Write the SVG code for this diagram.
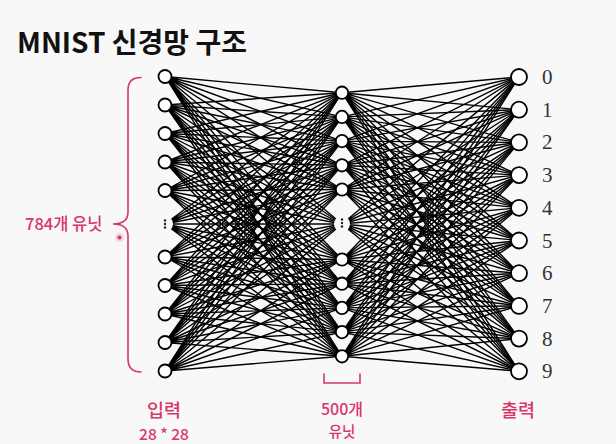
<svg xmlns="http://www.w3.org/2000/svg" width="616" height="444" viewBox="0 0 616 444">
<style>
.bg{fill:#f8f8f8}
.title{font-family:"Noto Sans CJK KR","Noto Sans",sans-serif;font-weight:700;font-size:28px;fill:#111}
.lbl{font-family:"Noto Sans CJK KR","Noto Sans",sans-serif;font-weight:500;fill:#d8356a}
.dig{font-family:"Liberation Serif","DejaVu Serif",serif;font-size:21px;fill:#333}
.edge{stroke:#000;stroke-width:1.4;fill:none}
.node{fill:#fff;stroke:#000;stroke-width:1.8}
.mask{fill:#f8f8f8}
.dot{fill:#222}
.pink{stroke:#d8356a;stroke-width:1.6;fill:none;stroke-linecap:round}
</style>
<rect class="bg" x="0" y="0" width="616" height="444"/>
<text class="title" x="17" y="53">MNIST 신경망 구조</text>

<g id="connectors" class="edge">
<path d="M165 76.5L342 92.7M165 76.5L342 116.9M165 76.5L342 141.1M165 76.5L342 165.3M165 76.5L342 189.5M165 76.5L342 224M165 76.5L342 259.5M165 76.5L342 283.7M165 76.5L342 307.9M165 76.5L342 332.1M165 76.5L342 356.3"/>
<path d="M165 105L342 92.7M165 105L342 116.9M165 105L342 141.1M165 105L342 165.3M165 105L342 189.5M165 105L342 224M165 105L342 259.5M165 105L342 283.7M165 105L342 307.9M165 105L342 332.1M165 105L342 356.3"/>
<path d="M165 133.5L342 92.7M165 133.5L342 116.9M165 133.5L342 141.1M165 133.5L342 165.3M165 133.5L342 189.5M165 133.5L342 224M165 133.5L342 259.5M165 133.5L342 283.7M165 133.5L342 307.9M165 133.5L342 332.1M165 133.5L342 356.3"/>
<path d="M165 162L342 92.7M165 162L342 116.9M165 162L342 141.1M165 162L342 165.3M165 162L342 189.5M165 162L342 224M165 162L342 259.5M165 162L342 283.7M165 162L342 307.9M165 162L342 332.1M165 162L342 356.3"/>
<path d="M165 190.5L342 92.7M165 190.5L342 116.9M165 190.5L342 141.1M165 190.5L342 165.3M165 190.5L342 189.5M165 190.5L342 224M165 190.5L342 259.5M165 190.5L342 283.7M165 190.5L342 307.9M165 190.5L342 332.1M165 190.5L342 356.3"/>
<path d="M165 224L342 92.7M165 224L342 116.9M165 224L342 141.1M165 224L342 165.3M165 224L342 189.5M165 224L342 224M165 224L342 259.5M165 224L342 283.7M165 224L342 307.9M165 224L342 332.1M165 224L342 356.3"/>
<path d="M165 257L342 92.7M165 257L342 116.9M165 257L342 141.1M165 257L342 165.3M165 257L342 189.5M165 257L342 224M165 257L342 259.5M165 257L342 283.7M165 257L342 307.9M165 257L342 332.1M165 257L342 356.3"/>
<path d="M165 285.5L342 92.7M165 285.5L342 116.9M165 285.5L342 141.1M165 285.5L342 165.3M165 285.5L342 189.5M165 285.5L342 224M165 285.5L342 259.5M165 285.5L342 283.7M165 285.5L342 307.9M165 285.5L342 332.1M165 285.5L342 356.3"/>
<path d="M165 314L342 92.7M165 314L342 116.9M165 314L342 141.1M165 314L342 165.3M165 314L342 189.5M165 314L342 224M165 314L342 259.5M165 314L342 283.7M165 314L342 307.9M165 314L342 332.1M165 314L342 356.3"/>
<path d="M165 342.5L342 92.7M165 342.5L342 116.9M165 342.5L342 141.1M165 342.5L342 165.3M165 342.5L342 189.5M165 342.5L342 224M165 342.5L342 259.5M165 342.5L342 283.7M165 342.5L342 307.9M165 342.5L342 332.1M165 342.5L342 356.3"/>
<path d="M165 371L342 92.7M165 371L342 116.9M165 371L342 141.1M165 371L342 165.3M165 371L342 189.5M165 371L342 224M165 371L342 259.5M165 371L342 283.7M165 371L342 307.9M165 371L342 332.1M165 371L342 356.3"/>

<path d="M342 92.7L519 77M342 92.7L519 109.7M342 92.7L519 142.4M342 92.7L519 175.1M342 92.7L519 207.8M342 92.7L519 240.5M342 92.7L519 273.2M342 92.7L519 305.9M342 92.7L519 338.6M342 92.7L519 371.3"/>
<path d="M342 116.9L519 77M342 116.9L519 109.7M342 116.9L519 142.4M342 116.9L519 175.1M342 116.9L519 207.8M342 116.9L519 240.5M342 116.9L519 273.2M342 116.9L519 305.9M342 116.9L519 338.6M342 116.9L519 371.3"/>
<path d="M342 141.1L519 77M342 141.1L519 109.7M342 141.1L519 142.4M342 141.1L519 175.1M342 141.1L519 207.8M342 141.1L519 240.5M342 141.1L519 273.2M342 141.1L519 305.9M342 141.1L519 338.6M342 141.1L519 371.3"/>
<path d="M342 165.3L519 77M342 165.3L519 109.7M342 165.3L519 142.4M342 165.3L519 175.1M342 165.3L519 207.8M342 165.3L519 240.5M342 165.3L519 273.2M342 165.3L519 305.9M342 165.3L519 338.6M342 165.3L519 371.3"/>
<path d="M342 189.5L519 77M342 189.5L519 109.7M342 189.5L519 142.4M342 189.5L519 175.1M342 189.5L519 207.8M342 189.5L519 240.5M342 189.5L519 273.2M342 189.5L519 305.9M342 189.5L519 338.6M342 189.5L519 371.3"/>
<path d="M342 224L519 77M342 224L519 109.7M342 224L519 142.4M342 224L519 175.1M342 224L519 207.8M342 224L519 240.5M342 224L519 273.2M342 224L519 305.9M342 224L519 338.6M342 224L519 371.3"/>
<path d="M342 259.5L519 77M342 259.5L519 109.7M342 259.5L519 142.4M342 259.5L519 175.1M342 259.5L519 207.8M342 259.5L519 240.5M342 259.5L519 273.2M342 259.5L519 305.9M342 259.5L519 338.6M342 259.5L519 371.3"/>
<path d="M342 283.7L519 77M342 283.7L519 109.7M342 283.7L519 142.4M342 283.7L519 175.1M342 283.7L519 207.8M342 283.7L519 240.5M342 283.7L519 273.2M342 283.7L519 305.9M342 283.7L519 338.6M342 283.7L519 371.3"/>
<path d="M342 307.9L519 77M342 307.9L519 109.7M342 307.9L519 142.4M342 307.9L519 175.1M342 307.9L519 207.8M342 307.9L519 240.5M342 307.9L519 273.2M342 307.9L519 305.9M342 307.9L519 338.6M342 307.9L519 371.3"/>
<path d="M342 332.1L519 77M342 332.1L519 109.7M342 332.1L519 142.4M342 332.1L519 175.1M342 332.1L519 207.8M342 332.1L519 240.5M342 332.1L519 273.2M342 332.1L519 305.9M342 332.1L519 338.6M342 332.1L519 371.3"/>
<path d="M342 356.3L519 77M342 356.3L519 109.7M342 356.3L519 142.4M342 356.3L519 175.1M342 356.3L519 207.8M342 356.3L519 240.5M342 356.3L519 273.2M342 356.3L519 305.9M342 356.3L519 338.6M342 356.3L519 371.3"/>
</g>

<g id="input-layer">
<g id="in-1"><circle class="node" cx="165" cy="76.5" r="6.5"/></g>
<g id="in-2"><circle class="node" cx="165" cy="105" r="6.5"/></g>
<g id="in-3"><circle class="node" cx="165" cy="133.5" r="6.5"/></g>
<g id="in-4"><circle class="node" cx="165" cy="162" r="6.5"/></g>
<g id="in-5"><circle class="node" cx="165" cy="190.5" r="6.5"/></g>
<g id="in-dots"><circle class="mask" cx="165" cy="224" r="8"/><circle class="dot" cx="165" cy="220.5" r="1.2"/><circle class="dot" cx="165" cy="224" r="1.2"/><circle class="dot" cx="165" cy="227.5" r="1.2"/></g>
<g id="in-6"><circle class="node" cx="165" cy="257" r="6.5"/></g>
<g id="in-7"><circle class="node" cx="165" cy="285.5" r="6.5"/></g>
<g id="in-8"><circle class="node" cx="165" cy="314" r="6.5"/></g>
<g id="in-9"><circle class="node" cx="165" cy="342.5" r="6.5"/></g>
<g id="in-10"><circle class="node" cx="165" cy="371" r="6.5"/></g>
</g>

<g id="hidden-layer">
<g id="h-1"><circle class="node" cx="342" cy="92.7" r="6.2"/></g>
<g id="h-2"><circle class="node" cx="342" cy="116.9" r="6.2"/></g>
<g id="h-3"><circle class="node" cx="342" cy="141.1" r="6.2"/></g>
<g id="h-4"><circle class="node" cx="342" cy="165.3" r="6.2"/></g>
<g id="h-5"><circle class="node" cx="342" cy="189.5" r="6.2"/></g>
<g id="h-dots"><circle class="mask" cx="342" cy="224" r="8"/><circle class="dot" cx="342" cy="219.5" r="1.2"/><circle class="dot" cx="342" cy="223" r="1.2"/><circle class="dot" cx="342" cy="226.5" r="1.2"/></g>
<g id="h-6"><circle class="node" cx="342" cy="259.5" r="6.2"/></g>
<g id="h-7"><circle class="node" cx="342" cy="283.7" r="6.2"/></g>
<g id="h-8"><circle class="node" cx="342" cy="307.9" r="6.2"/></g>
<g id="h-9"><circle class="node" cx="342" cy="332.1" r="6.2"/></g>
<g id="h-10"><circle class="node" cx="342" cy="356.3" r="6.2"/></g>
</g>

<g id="output-layer">
<g id="out-0"><circle class="node" cx="519" cy="77" r="8"/><text class="dig" x="542" y="84">0</text></g>
<g id="out-1"><circle class="node" cx="519" cy="109.7" r="8"/><text class="dig" x="542" y="116.7">1</text></g>
<g id="out-2"><circle class="node" cx="519" cy="142.4" r="8"/><text class="dig" x="542" y="149.4">2</text></g>
<g id="out-3"><circle class="node" cx="519" cy="175.1" r="8"/><text class="dig" x="542" y="182.1">3</text></g>
<g id="out-4"><circle class="node" cx="519" cy="207.8" r="8"/><text class="dig" x="542" y="214.8">4</text></g>
<g id="out-5"><circle class="node" cx="519" cy="240.5" r="8"/><text class="dig" x="542" y="247.5">5</text></g>
<g id="out-6"><circle class="node" cx="519" cy="273.2" r="8"/><text class="dig" x="542" y="280.2">6</text></g>
<g id="out-7"><circle class="node" cx="519" cy="305.9" r="8"/><text class="dig" x="542" y="312.9">7</text></g>
<g id="out-8"><circle class="node" cx="519" cy="338.6" r="8"/><text class="dig" x="542" y="345.6">8</text></g>
<g id="out-9"><circle class="node" cx="519" cy="371.3" r="8"/><text class="dig" x="542" y="378.3">9</text></g>
</g>

<g id="input-brace">
<path class="pink" d="M141 77.5Q128 77.5 128 90V212Q128 224 113 224Q128 224 128 236V359Q128 372 141 372"/>
<text class="lbl" x="25" y="230" font-size="16.5">784개 유닛</text>
<circle cx="119.5" cy="237.5" r="4.5" fill="#e86a8e" opacity="0.25"/>
<circle cx="119.5" cy="237.5" r="2" fill="#d8356a"/>
</g>

<g id="hidden-bracket">
<path class="pink" d="M324 374V383H360V374"/>
<text class="lbl" x="342" y="415" font-size="16" text-anchor="middle">500개</text>
<text class="lbl" x="342" y="437" font-size="14.5" text-anchor="middle">유닛</text>
</g>

<g id="labels">
<text class="lbl" x="164" y="417" font-size="18.5" text-anchor="middle">입력</text>
<text class="lbl" x="164" y="440" font-size="15.5" text-anchor="middle">28 * 28</text>
<text class="lbl" x="518" y="417" font-size="18.5" text-anchor="middle">출력</text>
</g>
</svg>
